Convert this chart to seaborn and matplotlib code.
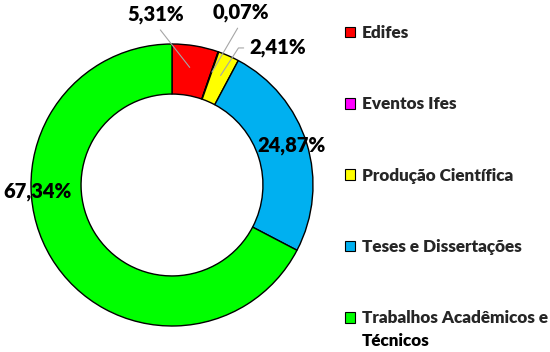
import matplotlib
matplotlib.use('Agg')
import matplotlib.pyplot as plt
import numpy as np
import seaborn as sns
from matplotlib.patches import Patch

# --- data ---
categories = ['Edifes', 'Eventos Ifes', 'Produção Científica',
              'Teses e Dissertações', 'Trabalhos Acadêmicos e']
label_tail = 'Técnicos'  # second line of the last legend label
shares = [5.31, 0.07, 2.41, 24.87, 67.34]
pct_labels = ['5,31%', '0,07%', '2,41%', '24,87%', '67,34%']
colors = ['#FF0000', '#FF00FF', '#FFFF00', '#00B0F0', '#00FF00']

# label layout (data units, ring radius = 1)
label_xy = [(-0.113, 1.206), (0.489, 1.22), (0.752, 0.972), (0.851, 0.277), (-0.957, -0.043)]
leader = [True, True, True, False, False]

sns.set_theme(style='white')
plt.rcParams['font.family'] = ['Lato', 'DejaVu Sans']
WEIGHT = 'heavy'

fig = plt.figure(figsize=(5.5, 3.52), dpi=100)
ax = fig.add_axes([31 / 550, 26 / 352, 282 / 550, 282 / 352])

wedges, _ = ax.pie(shares, colors=colors, startangle=90, counterclock=False,
                   radius=1, wedgeprops=dict(width=0.355, edgecolor='black', linewidth=1))
ax.set_xlim(-1, 1)
ax.set_ylim(-1, 1)
ax.set_aspect('equal')
ax.axis('off')

for i, (w, lab) in enumerate(zip(wedges, pct_labels)):
    tx, ty = label_xy[i]
    if leader[i]:
        ang = np.deg2rad((w.theta1 + w.theta2) / 2)
        r = 0.83
        end = (r * np.cos(ang), r * np.sin(ang))
        if i == 2:
            ap = dict(arrowstyle='-', color='#A6A6A6', lw=0.8, relpos=(0, 0.5),
                      connectionstyle='angle,angleA=0,angleB=57,rad=0')
        else:
            ap = dict(arrowstyle='-', color='#A6A6A6', lw=0.8, relpos=(0.5, 0))
        ax.annotate(lab, xy=end, xytext=(tx, ty), ha='center', va='center',
                    fontsize=14.5, fontweight=WEIGHT, color='black',
                    arrowprops=ap, annotation_clip=False)
    else:
        ax.text(tx, ty, lab, ha='center', va='center', fontsize=14.5,
                fontweight=WEIGHT, color='black')

handles = [Patch(facecolor=c, edgecolor='black', linewidth=0.8) for c in colors]
leg = fig.legend(handles, categories, loc='upper left', bbox_to_anchor=(345 / 550, 327 / 352),
                 frameon=False, borderpad=0, borderaxespad=0, labelspacing=3.24,
                 handlelength=0.58, handleheight=0.58, handletextpad=0.42,
                 prop=dict(family=['Lato', 'DejaVu Sans'], weight=WEIGHT, size=12.3))

# second line of the last label, placed under its first line
fig.canvas.draw()
bb = leg.get_texts()[-1].get_window_extent()
fig.text(bb.x0 / 550, (bb.y0 - 23) / 352, label_tail, ha='left', va='bottom',
         fontsize=12.3, fontweight=WEIGHT, color='black')

fig.savefig('out.png', dpi=100)
